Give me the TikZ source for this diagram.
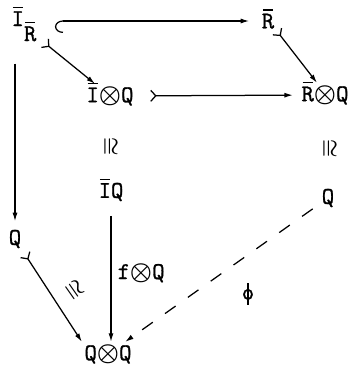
\documentclass[tikz,border=0pt]{standalone}
\usepackage{fontspec}
\newfontfamily\typefont{Latin Modern Mono}[FakeBold=1.2]
\usetikzlibrary{arrows.meta}
\newcommand\barred[1]{\ooalign{#1\cr\hidewidth\rule[0.74em]{0.42em}{1.3pt}\hidewidth\cr}}
\newcommand\tens{{\boldmath$\otimes$}}
\newcommand\isosym{{\boldmath$\cong$}}
\newcommand\phisym{\ooalign{o\cr\hidewidth\rule[-0.22em]{1.2pt}{0.92em}\hidewidth\cr}}
\tikzset{
  diagpicture/.style={x=1pt, y=-1pt, line width=1.25pt},
  diagobj/.style={font=\fontsize{24}{26}\typefont, inner sep=2pt},
  diagiso/.style={font=\fontsize{22}{24}\selectfont, inner sep=0pt},
  diagarrow/.style={-{Latex[length=8.5pt,width=5pt]}},
  diagmono/.style={{Straight Barb[reversed,length=5pt,width=11pt]}-{Latex[length=8.5pt,width=5pt]}},
  diaghook/.style={{Hooks[left,length=8pt,width=24pt]}-{Latex[length=8.5pt,width=5pt]}},
  diagdash/.style={diagarrow, dash pattern=on 13pt off 15pt}
}
\begin{document}
\begin{tikzpicture}[diagpicture]
\useasboundingbox (0,0) rectangle (352,378);
% objects
\node[diagobj, anchor=base west] (ir) at (9,26) {\barred{I}\raisebox{-15pt}{\barred{R}}};
\node[diagobj] (rb) at (268,21) {\barred{R}};
\node[diagobj] (iq) at (110,96) {\barred{I}\tens Q};
\node[diagobj] (rq) at (325,95) {\barred{R}\tens Q};
\node[diagiso] (iso1) at (110,147) {\rotatebox{-90}{\isosym}};
\node[diagiso] (iso2) at (329,149) {\rotatebox{-90}{\isosym}};
\node[diagobj] (ib) at (111,192) {\barred{I}Q};
\node[diagobj] (qr) at (328,198) {Q};
\node[diagobj] (ql) at (15,239) {Q};
\node[diagobj] (qq) at (108,354) {Q\tens Q};
% maps
\draw[diaghook, shorten >=10pt] ([xshift=16pt]ir.east |- rb) -- (rb);
\draw[diagmono, shorten <=7pt] (ir) -- (iq);
\draw[diagmono] (rb.south east) -- ([xshift=-8pt]rq.north);
\draw[diagmono, shorten <=14pt, shorten >=6pt] (iq) -- (rq);
\draw[diagarrow, shorten <=20pt, shorten >=6pt] (ql |- ir.south) -- (ql);
\draw[diagarrow, shorten <=12pt] (ib) -- (ib |- qq.north)
  node[diagobj, pos=0.5, right=4pt] {f\tens Q};
\draw[diagmono, shorten <=4pt] (ql) -- (qq.north west);
\node[diagiso, rotate=-55] (iso3) at (74,290) {\isosym};
\draw[diagdash, shorten <=8pt] (qr) -- (qq);
\node[diagobj] (phi) at (248,297) {\phisym};
\end{tikzpicture}
\end{document}
